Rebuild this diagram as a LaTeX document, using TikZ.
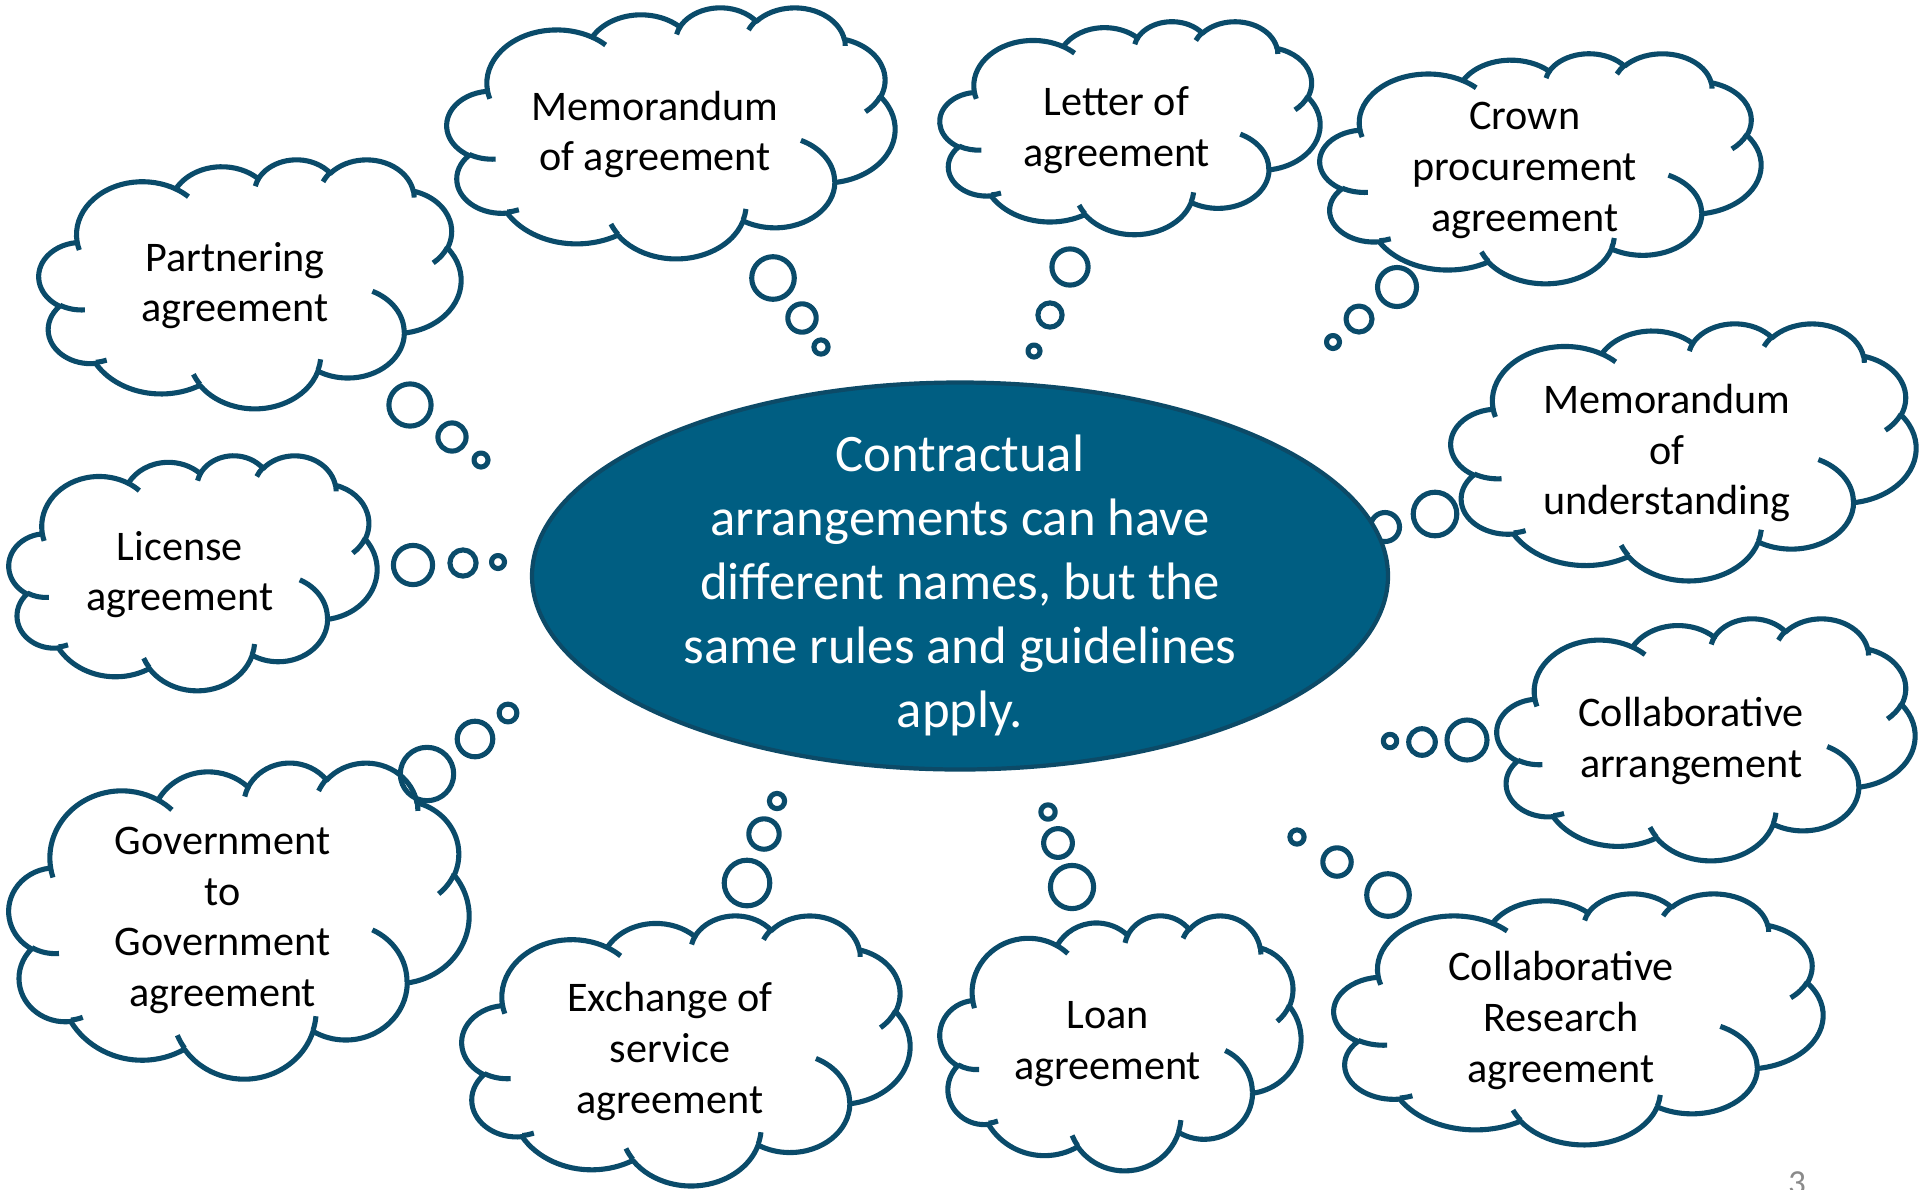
\documentclass[tikz,border=0pt]{standalone}
\usepackage{fontspec}
\setmainfont{Carlito}
\usepackage{tikz}
\usetikzlibrary{calc,positioning}
\definecolor{cloudblue}{HTML}{0A4B6A}
\definecolor{hubblue}{HTML}{005E82}
\definecolor{hubedge}{HTML}{0C4A67}
\definecolor{pagegray}{HTML}{8A8A8A}

% arc angles are given as seen from the centre of the ellipse;
% arc[] wants the parametric angle, so convert
\pgfmathdeclarefunction{vang}{3}{%
  \begingroup
  \pgfmathparse{atan2(#1*sin(#3),#2*cos(#3))}%
  \pgfmathsmuggle\pgfmathresult
  \endgroup}

\tikzset{
  cloudline/.style={draw=cloudblue, line width=1.45pt, line join=round},
  cloudtext/.style={font=\fontsize{12}{14.4}\selectfont, align=center, text=black, inner sep=0pt, yshift=-2.2pt},
  hubtext/.style={font=\fontsize{15}{18.2}\selectfont, align=center, text=white, inner sep=0pt},
  pagenum/.style={font=\fontsize{10}{12}\selectfont, text=pagegray, inner sep=0pt},
  varc/.style n args={4}{insert path={
    arc[x radius=#1, y radius=#2, start angle={vang(#1,#2,#3)},
        delta angle={mod(vang(#1,#2,#3+#4)-vang(#1,#2,#3)+720,360)}]}},
}

% #1 name, #2/#3 top left corner, #4 width, #5 height, #6 text
\newcommand{\thoughtcloud}[6]{%
  \begin{scope}[shift={(#2,#3)}, xscale=#4/43.2, yscale=#5/43.2]
    \draw[cloudline] (3.9,14.37)
      [varc={6.753}{9.19}{-190.4875}{123.7805}]
      [varc={5.333}{7.267}{-144.1024}{89.9452}]
      [varc={4.365}{5.945}{-145.8079}{99.723}]
      [varc={4.857}{6.595}{-130.9861}{117.2417}]
      [varc={5.333}{7.273}{-78.7089}{109.0269}]
      [varc={6.775}{9.22}{-46.2673}{130.269}]
      [varc={5.785}{7.867}{0.625}{114.0333}]
      [varc={6.752}{9.215}{22.4516}{115.1726}]
      [varc={7.72}{10.543}{66.2426}{75.711}]
      [varc={4.36}{5.918}{-274.9421}{146.7356}]
      [varc={4.345}{5.945}{-246.8285}{152.5189}] -- cycle;
    % short creases where the puffs meet
    \draw[cloudline]
      (4.693,26.177) [varc={4.345}{5.945}{86.742}{26.4295}]
      (6.928,34.899) [varc={4.36}{5.918}{73.6105}{11.4475}]
      (16.478,39.09) [varc={6.752}{9.215}{137.6242}{14.0811}]
      (28.827,34.751) [varc={6.752}{9.215}{6.4533}{15.9984}]
      (34.129,22.954) [varc={5.785}{7.867}{-70.2924}{70.9174}]
      (41.798,15.354) [varc={5.333}{7.273}{30.318}{27.7515}]
      (38.324,5.426) [varc={4.857}{6.595}{-13.7443}{14.8589}]
      (29.078,3.952) [varc={4.857}{6.595}{-149.1815}{18.1954}]
      (22.141,4.72) [varc={4.365}{5.945}{-163.4943}{17.6864}]
      (14,5.192) [varc={6.753}{9.19}{-66.707}{12.3194}]
      (4.127,15.789) [varc={6.753}{9.19}{157.6544}{11.8582}];
    \node[cloudtext] (#1) at (20.06,20.6) {#6};
  \end{scope}}

\begin{document}
\begin{tikzpicture}[yscale=-1]
  \useasboundingbox (0,0) rectangle (19.2,11.89);

  % clouds
  \thoughtcloud{memoagr}{4.47}{0.07}{4.48}{2.51}{Memorandum\\of agreement}
  \thoughtcloud{letter}{9.40}{0.21}{3.80}{2.13}{Letter of\\agreement}
  \thoughtcloud{crown}{13.20}{0.53}{4.41}{2.30}{Crown\\procurement\\agreement}
  \thoughtcloud{partner}{0.39}{1.59}{4.22}{2.49}{Partnering\\agreement}
  \thoughtcloud{license}{0.09}{4.55}{3.68}{2.35}{License\\agreement}
  \thoughtcloud{memound}{14.51}{3.23}{4.65}{2.57}{Memorandum\\of\\understanding}
  \thoughtcloud{collabarr}{14.97}{6.18}{4.18}{2.42}{Collaborative\\arrangement}
  \thoughtcloud{gov}{0.09}{7.62}{4.60}{3.16}{Government\\to\\Government\\agreement}
  \thoughtcloud{exchange}{4.62}{9.15}{4.48}{2.70}{Exchange of\\service\\agreement}
  \thoughtcloud{loan}{9.40}{9.15}{3.61}{2.55}{Loan\\agreement}
  \thoughtcloud{research}{13.34}{8.93}{4.89}{2.51}{Collaborative\\Research\\agreement}

  % thought bubbles, small one first
  \foreach \bx/\by/\br in {
      8.21/3.47/0.071, 8.02/3.18/0.142, 7.73/2.78/0.213,
      10.34/3.51/0.060, 10.50/3.15/0.121, 10.70/2.67/0.181,
      13.33/3.42/0.065, 13.59/3.19/0.130, 13.97/2.87/0.195,
      4.81/4.60/0.070, 4.52/4.37/0.141, 4.10/4.05/0.211,
      4.98/5.62/0.065, 4.63/5.63/0.131, 4.13/5.65/0.196,
      13.50/5.36/0.073, 13.85/5.27/0.145, 14.35/5.14/0.218,
      13.90/7.41/0.067, 14.22/7.42/0.133, 14.67/7.40/0.200,
      5.08/7.13/0.089, 4.75/7.39/0.178, 4.27/7.74/0.267,
      7.77/8.01/0.076, 7.64/8.34/0.152, 7.47/8.83/0.228,
      10.48/8.12/0.072, 10.58/8.43/0.144, 10.72/8.87/0.216,
      12.97/8.37/0.071, 13.37/8.62/0.142, 13.88/8.95/0.213}
    \draw[cloudline] (\bx,\by) circle[radius=\br];

  % centre ellipse
  \draw[fill=hubblue, draw=hubedge, line width=1.2pt] (9.60,5.76) ellipse[x radius=4.28, y radius=1.935];
  \node[hubtext] (hub) at (9.60,5.85) {Contractual\\arrangements can have\\different names, but the\\same rules and guidelines\\apply.};

  \node[pagenum, anchor=base] (page) at (17.97,11.94) {3};
\end{tikzpicture}
\end{document}
